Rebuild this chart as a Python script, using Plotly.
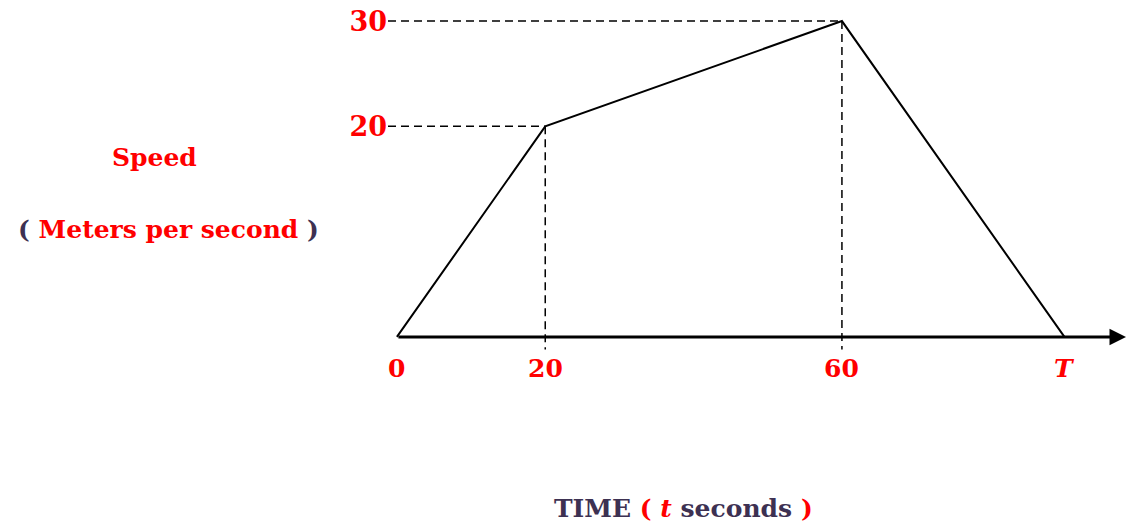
import plotly.graph_objects as go

# Data
time_s = [0, 20, 60, 90]          # 90 stands for the unknown end time T
speed_ms = [0, 20, 30, 0]
x_tick_vals = [0, 20, 60, 90]
x_tick_text = ["0", "20", "60", "<i>T</i>"]
y_tick_vals = [20, 30]
y_tick_text = ["20", "30"]

RED = "#ff0000"
DARK = "#3d3152"
FONT = "DejaVu Serif"

X0, X1 = -1.2, 98.3
Y0, Y1 = -2, 32

W, H = 1126, 529
L, R, T, B = 388, 0, 0, 171
pw, ph = W - L - R, H - T - B


def px_x(v):
    return (v - L) / pw


def px_y(v):
    return 1 - (v - T) / ph


fig = go.Figure()

# dashed guides
for tx, sy in zip(time_s[1:3], speed_ms[1:3]):
    fig.add_trace(go.Scatter(x=[X0, tx], y=[sy, sy], mode="lines",
                             line=dict(color="black", width=1.5, dash="8px,5px"),
                             hoverinfo="skip", showlegend=False))
    fig.add_trace(go.Scatter(x=[tx, tx], y=[sy, -1.2], mode="lines",
                             line=dict(color="black", width=1.5, dash="8px,5px"),
                             hoverinfo="skip", showlegend=False))

# speed-time graph
fig.add_trace(go.Scatter(x=time_s, y=speed_ms, mode="lines",
                         line=dict(color="black", width=2),
                         hoverinfo="skip", showlegend=False))

# x axis with arrow
fig.add_annotation(x=98.3, y=0, ax=0, ay=0, xref="x", yref="y", axref="x", ayref="y",
                   text="", showarrow=True, arrowhead=2, arrowsize=1.1, arrowwidth=3,
                   arrowcolor="black")

# x tick labels
for v, t in zip(x_tick_vals, x_tick_text):
    fig.add_annotation(x=v, y=px_y(368), xref="x", yref="paper", text=t,
                       showarrow=False, xanchor="center", yanchor="middle",
                       font=dict(family=FONT, size=25, color=RED, weight="bold"))

fig.add_annotation(x=px_x(154), y=px_y(158), xref="paper", yref="paper", text="Speed",
                   showarrow=False, xanchor="center", yanchor="middle",
                   font=dict(family=FONT, size=25, color=RED, weight="bold"))
fig.add_annotation(x=px_x(168), y=px_y(229), xref="paper", yref="paper",
                   text=f"<span style='color:{DARK}'>(</span> Meters per second <span style='color:{DARK}'>)</span>",
                   showarrow=False, xanchor="center", yanchor="middle",
                   font=dict(family=FONT, size=25, color=RED, weight="bold"))
fig.add_annotation(x=px_x(683), y=px_y(508), xref="paper", yref="paper",
                   text=f"TIME <span style='color:{RED}'>( <i>t</i></span> seconds <span style='color:{RED}'>)</span>",
                   showarrow=False, xanchor="center", yanchor="middle",
                   font=dict(family=FONT, size=25, color=DARK, weight="bold"))

fig.update_xaxes(range=[X0, X1], showgrid=False, zeroline=False, showline=False,
                 showticklabels=False, ticks="")
fig.update_yaxes(range=[Y0, Y1], showgrid=False, zeroline=False, showline=False,
                 tickvals=y_tick_vals, ticktext=y_tick_text, ticks="",
                 tickfont=dict(family=FONT, size=27, color=RED, weight="bold"))

fig.update_layout(width=W, height=H, margin=dict(l=L, r=R, t=T, b=B),
                  plot_bgcolor="white", paper_bgcolor="white",
                  font=dict(family=FONT))

fig.write_html("out.html", config={"displayModeBar": False},
               post_script="document.body.style.margin='0';")
